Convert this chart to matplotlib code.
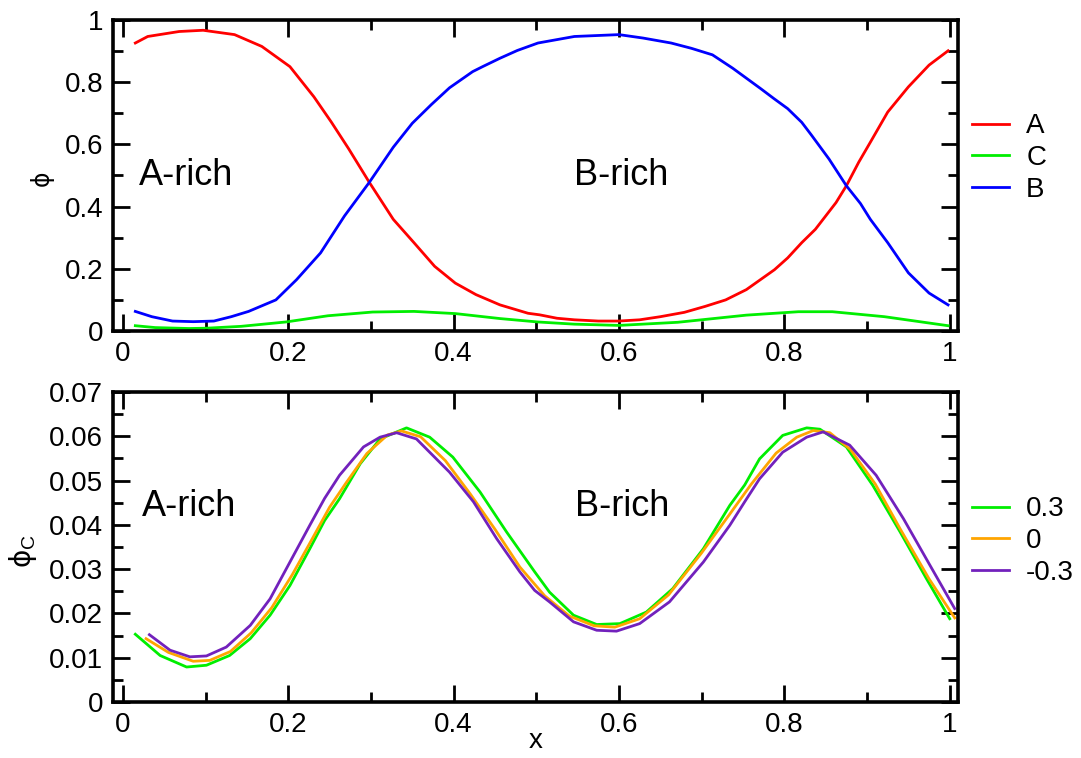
import numpy as np
import matplotlib
matplotlib.use('Agg')
import matplotlib.pyplot as plt
from matplotlib.ticker import MultipleLocator

plt.rcParams['font.family'] = ['Liberation Sans', 'DejaVu Sans']
plt.rcParams['mathtext.fontset'] = 'custom'
plt.rcParams['mathtext.rm'] = 'Liberation Sans'

# --- top panel: volume fractions of A, C, B across x ---
x_A = [0.015, 0.030, 0.068, 0.097, 0.135, 0.168, 0.202, 0.231, 0.252, 0.273, 0.298,
       0.327, 0.352, 0.377, 0.402, 0.427, 0.456, 0.490, 0.504, 0.525, 0.546, 0.575,
       0.600, 0.625, 0.650, 0.679, 0.704, 0.729, 0.754, 0.788, 0.804, 0.821, 0.8375,
       0.850, 0.8625, 0.875, 0.890, 0.904, 0.925, 0.950, 0.975, 0.998]
phi_A = [0.926, 0.947, 0.963, 0.967, 0.953, 0.915, 0.850, 0.753, 0.672, 0.586, 0.478,
         0.359, 0.284, 0.208, 0.154, 0.117, 0.084, 0.057, 0.052, 0.041, 0.036, 0.032,
         0.032, 0.036, 0.046, 0.060, 0.079, 0.100, 0.133, 0.197, 0.235, 0.284, 0.327,
         0.370, 0.413, 0.467, 0.543, 0.607, 0.704, 0.785, 0.855, 0.901]

x_B = [0.015, 0.035, 0.060, 0.085, 0.110, 0.131, 0.152, 0.185, 0.210, 0.239, 0.268,
       0.298, 0.327, 0.350, 0.373, 0.395, 0.423, 0.435, 0.456, 0.477, 0.502, 0.546,
       0.600, 0.629, 0.663, 0.6875, 0.713, 0.7375, 0.771, 0.7875, 0.804, 0.821, 0.833,
       0.854, 0.875, 0.892, 0.904, 0.925, 0.950, 0.975, 0.998]
phi_B = [0.063, 0.046, 0.032, 0.030, 0.032, 0.046, 0.063, 0.100, 0.165, 0.251, 0.370,
         0.478, 0.591, 0.668, 0.728, 0.782, 0.834, 0.850, 0.877, 0.902, 0.926, 0.947,
         0.953, 0.942, 0.926, 0.909, 0.888, 0.845, 0.780, 0.747, 0.715, 0.671, 0.629,
         0.553, 0.467, 0.410, 0.359, 0.284, 0.187, 0.122, 0.084]

x_C = [0.015, 0.039, 0.080, 0.101, 0.143, 0.197, 0.248, 0.302, 0.352, 0.402, 0.456,
       0.502, 0.546, 0.600, 0.671, 0.754, 0.817, 0.858, 0.921, 0.998]
phi_C = [0.017, 0.011, 0.008, 0.009, 0.015, 0.029, 0.049, 0.061, 0.063, 0.056, 0.040,
         0.029, 0.022, 0.018, 0.028, 0.051, 0.062, 0.062, 0.046, 0.017]

# --- bottom panel: phi_C for three parameter values ---
x_p03 = [0.015, 0.045, 0.077, 0.101, 0.129, 0.154, 0.178, 0.202, 0.226, 0.244, 0.262,
         0.287, 0.311, 0.343, 0.371, 0.399, 0.432, 0.464, 0.498, 0.516, 0.545, 0.573,
         0.601, 0.633, 0.665, 0.702, 0.734, 0.752, 0.770, 0.798, 0.827, 0.843, 0.875,
         0.907, 0.940, 0.972, 1.000]
c_p03 = [0.0153, 0.0105, 0.0079, 0.0083, 0.0105, 0.0143, 0.0196, 0.0263, 0.0346, 0.0410,
         0.0459, 0.0538, 0.0594, 0.0619, 0.0598, 0.0553, 0.0474, 0.0384, 0.0294, 0.0248,
         0.0196, 0.0175, 0.0177, 0.0203, 0.0256, 0.0346, 0.0444, 0.0490, 0.0549, 0.0602,
         0.0619, 0.0616, 0.0576, 0.0489, 0.0384, 0.0278, 0.0188]

x_0 = [0.028, 0.055, 0.085, 0.105, 0.130, 0.155, 0.180, 0.205, 0.230, 0.250, 0.270,
       0.295, 0.320, 0.337, 0.360, 0.390, 0.420, 0.450, 0.480, 0.510, 0.540, 0.570,
       0.595, 0.625, 0.660, 0.700, 0.735, 0.760, 0.790, 0.815, 0.835, 0.855, 0.880,
       0.910, 0.940, 0.975, 1.006]
c_0 = [0.0143, 0.0112, 0.0092, 0.0094, 0.0114, 0.0156, 0.0213, 0.0288, 0.0372, 0.0440,
       0.0495, 0.0561, 0.0603, 0.0612, 0.0599, 0.0545, 0.0470, 0.0390, 0.0305, 0.0240,
       0.0194, 0.0172, 0.0169, 0.0188, 0.0242, 0.0337, 0.0427, 0.0492, 0.0562, 0.0598,
       0.0613, 0.0608, 0.0570, 0.0492, 0.0391, 0.0278, 0.0190]

x_m03 = [0.032, 0.057, 0.081, 0.101, 0.125, 0.154, 0.178, 0.202, 0.226, 0.244, 0.262,
         0.291, 0.311, 0.331, 0.355, 0.395, 0.424, 0.452, 0.480, 0.498, 0.516, 0.545,
         0.573, 0.597, 0.625, 0.661, 0.702, 0.734, 0.752, 0.770, 0.798, 0.827, 0.847,
         0.879, 0.911, 0.944, 0.976, 1.006]
c_m03 = [0.0152, 0.0117, 0.0102, 0.0104, 0.0124, 0.0173, 0.0233, 0.0316, 0.0399, 0.0460,
         0.0512, 0.0576, 0.0598, 0.0608, 0.0594, 0.0519, 0.0452, 0.0369, 0.0294, 0.0252,
         0.0226, 0.0181, 0.0162, 0.0160, 0.0177, 0.0226, 0.0316, 0.0399, 0.0452, 0.0504,
         0.0564, 0.0598, 0.0610, 0.0580, 0.0512, 0.0414, 0.0309, 0.0211]

x_ticks = [0, 0.2, 0.4, 0.6, 0.8, 1.0]
x_ticklabels = ['0', '0.2', '0.4', '0.6', '0.8', '1']
y1_ticks = [0, 0.2, 0.4, 0.6, 0.8, 1.0]
y1_ticklabels = ['0', '0.2', '0.4', '0.6', '0.8', '1']
y2_ticks = [0, 0.01, 0.02, 0.03, 0.04, 0.05, 0.06, 0.07]
y2_ticklabels = ['0', '0.01', '0.02', '0.03', '0.04', '0.05', '0.06', '0.07']

W, H = 1081, 758
fig = plt.figure(figsize=(W / 100, H / 100), dpi=100)
ax1 = fig.add_axes([113 / W, 1 - 331 / H, 845 / W, 311 / H])
ax2 = fig.add_axes([113 / W, 1 - 702 / H, 845 / W, 310 / H])

lw = 2.0
ax1.plot(x_A, phi_A, color='#ff0000', lw=lw, label='A')
ax1.plot(x_C, phi_C, color='#00ee00', lw=lw, label='C')
ax1.plot(x_B, phi_B, color='#0000ff', lw=lw, label='B')

ax2.plot(x_p03, c_p03, color='#00ee00', lw=lw, label='0.3')
ax2.plot(x_0, c_0, color='#ffa500', lw=lw, label='0')
ax2.plot(x_m03, c_m03, color='#7221bc', lw=lw, label='-0.3')

ax1.set_ylim(0, 1)
ax2.set_ylim(0, 0.07)
ax1.set_yticks(y1_ticks)
ax1.set_yticklabels(y1_ticklabels)
ax1.yaxis.set_minor_locator(MultipleLocator(0.1))
ax2.set_yticks(y2_ticks)
ax2.set_yticklabels(y2_ticklabels)
ax2.yaxis.set_minor_locator(MultipleLocator(0.005))

for ax in (ax1, ax2):
    ax.set_xlim(-0.012, 1.01)
    ax.set_xticks(x_ticks)
    ax.set_xticklabels(x_ticklabels)
    ax.xaxis.set_minor_locator(MultipleLocator(0.1))
    ax.tick_params(which='both', direction='in', top=True, right=True,
                   width=2, labelsize=20, pad=7)
    ax.tick_params(which='major', length=12.5)
    ax.tick_params(which='minor', length=7)
    for s in ax.spines.values():
        s.set_linewidth(2.6)

ax1.set_ylabel('\u03d5', fontsize=17, family=['DejaVu Sans'])
ax1.yaxis.set_label_coords(-0.070, 0.49)
ax2.set_ylabel('\u03d5$_\\mathrm{C}$', fontsize=20, family=['DejaVu Sans'])
ax2.yaxis.set_label_coords(-0.088, 0.487)
ax2.set_xlabel('x', fontsize=20, labelpad=-7)

ax1.text(0.019, 0.468, 'A-rich', fontsize=26)
ax1.text(0.545, 0.468, 'B-rich', fontsize=26)
ax2.text(0.023, 0.042, 'A-rich', fontsize=26)
ax2.text(0.547, 0.042, 'B-rich', fontsize=26)

leg_kw = dict(frameon=False, fontsize=20, handlelength=1.33, handletextpad=0.62,
              labelspacing=0.2, borderpad=0, borderaxespad=0, loc='center left')
ax1.legend(bbox_to_anchor=(972 / W, 1 - 158 / H), bbox_transform=fig.transFigure, **leg_kw)
ax2.legend(bbox_to_anchor=(972 / W, 1 - 541 / H), bbox_transform=fig.transFigure, **leg_kw)

fig.savefig('out.png', dpi=100)
